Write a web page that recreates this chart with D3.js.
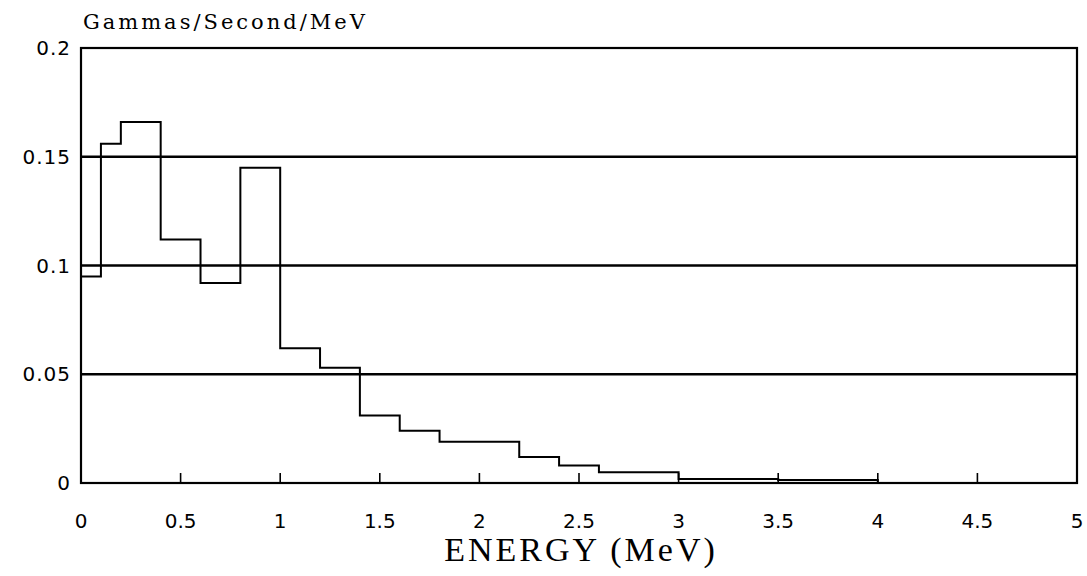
<!DOCTYPE html>
<html>
<head>
<meta charset="utf-8">
<script src="https://cdn.jsdelivr.net/npm/d3@7"></script>
<style>
  body { margin: 0; background: #fff; }
  svg { display: block; }
</style>
</head>
<body>
<div id="chart"></div>
<script>
// bin edges (MeV) and gamma intensity per bin
const binEdges = [0, 0.1, 0.2, 0.4, 0.6, 0.8, 1.0, 1.2, 1.4, 1.6, 1.8, 2.2, 2.4, 2.6, 3.0, 3.5, 4.0];
const binValues = [0.095, 0.156, 0.166, 0.112, 0.092, 0.145, 0.062, 0.053, 0.031, 0.024, 0.019, 0.012, 0.008, 0.005, 0.0018, 0.0014];
const yTicks = [0, 0.05, 0.1, 0.15, 0.2];
const xTicks = [0, 0.5, 1, 1.5, 2, 2.5, 3, 3.5, 4, 4.5, 5];
const yTitle = "Gammas/Second/MeV";
const xTitle = "ENERGY (MeV)";

function init() {
    const W = 1087, H = 576;
    const margin = { top: 48, right: 10, bottom: 93, left: 81 },
        width = W - margin.left - margin.right,
        height = H - margin.top - margin.bottom;

    const svg = d3.select("#chart")
        .append("svg")
        .attr("width", W)
        .attr("height", H);

    const g = svg.append("g")
        .attr("transform", `translate(${margin.left},${margin.top})`);

    const x = d3.scaleLinear().domain([0, 5]).range([0, width]);
    const y = d3.scaleLinear().domain([0, 0.2]).range([height, 0]);

    // horizontal grid lines
    g.selectAll(".grid")
        .data(yTicks.filter(d => d > 0 && d < 0.2))
        .join("line")
        .attr("x1", 0).attr("x2", width)
        .attr("y1", d => y(d)).attr("y2", d => y(d))
        .attr("stroke", "#000").attr("stroke-width", 2.5);

    // frame
    g.append("rect")
        .attr("width", width).attr("height", height)
        .attr("fill", "none").attr("stroke", "#000").attr("stroke-width", 2.2);

    // bottom ticks pointing inward
    g.selectAll(".xtick")
        .data(xTicks.filter(d => d > 0 && d < 5))
        .join("line")
        .attr("x1", d => x(d)).attr("x2", d => x(d))
        .attr("y1", height).attr("y2", height - 10)
        .attr("stroke", "#000").attr("stroke-width", 1.6);

    // step histogram
    const pts = [[binEdges[0], 0]];
    binValues.forEach((v, i) => {
        pts.push([binEdges[i], v]);
        pts.push([binEdges[i + 1], v]);
    });
    pts.push([binEdges[binEdges.length - 1], 0]);

    g.append("path")
        .datum(pts)
        .attr("fill", "none")
        .attr("stroke", "#000")
        .attr("stroke-width", 2)
        .attr("d", d3.line().x(d => x(d[0])).y(d => y(d[1])));

    // y tick labels
    g.selectAll(".ylab")
        .data(yTicks)
        .join("text")
        .attr("x", -10)
        .attr("y", d => y(d) + 7)
        .attr("text-anchor", "end")
        .attr("font-family", "DejaVu Sans, sans-serif")
        .attr("font-size", 20)
        .attr("letter-spacing", 1)
        .text(d => d);

    // x tick labels
    g.selectAll(".xlab")
        .data(xTicks)
        .join("text")
        .attr("x", d => x(d))
        .attr("y", height + 45)
        .attr("text-anchor", "middle")
        .attr("font-family", "DejaVu Sans, sans-serif")
        .attr("font-size", 20)
        .text(d => d);

    // axis titles
    svg.append("text")
        .attr("x", 83).attr("y", 29)
        .attr("font-family", "DejaVu Serif, serif")
        .attr("font-size", 21)
        .attr("letter-spacing", 3)
        .text(yTitle);

    svg.append("text")
        .attr("x", margin.left + width / 2 + 2).attr("y", 561)
        .attr("text-anchor", "middle")
        .attr("font-family", "Liberation Serif, serif")
        .attr("font-size", 34)
        .attr("letter-spacing", 3)
        .text(xTitle);
}

window.onload = init;
</script>
</body>
</html>
